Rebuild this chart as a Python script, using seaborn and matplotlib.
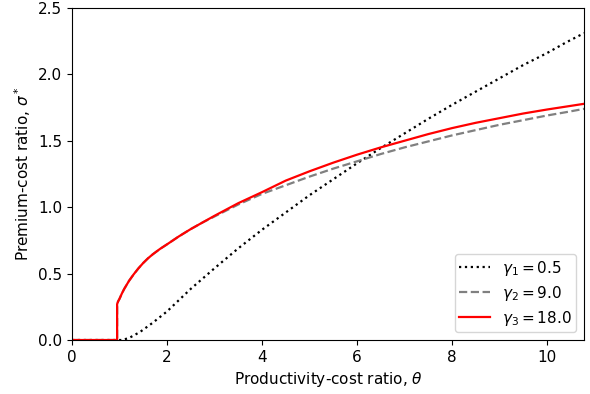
import matplotlib
matplotlib.use("Agg")
import matplotlib.pyplot as plt
import seaborn as sns

# gamma_1 = 0.5 (dotted black)
theta_1 = [0.0, 1.05, 1.2, 1.43, 1.7, 2.0, 2.5, 3.0, 3.5, 4.0, 4.5, 5.0, 5.5, 6.0, 6.5, 7.0, 7.5, 8.0, 8.5, 9.0, 9.5, 10.0, 10.4, 10.78]
sigma_1 = [0.0, 0.0, 0.015, 0.06, 0.13, 0.215, 0.385, 0.54, 0.69, 0.83, 0.96, 1.09, 1.21, 1.33, 1.445, 1.555, 1.665, 1.77, 1.87, 1.97, 2.07, 2.16, 2.24, 2.31]

# gamma_2 = 9.0 (dashed gray)
theta_2 = [0.0, 0.95, 0.95, 0.97, 1.0, 1.05, 1.1, 1.2, 1.3, 1.4, 1.5, 1.6, 1.7, 1.85, 2.0, 2.25, 2.5, 2.75, 3.0, 3.5, 4.0, 4.5, 5.0, 5.5, 6.0, 6.5, 7.0, 7.5, 8.0, 8.5, 9.0, 9.5, 10.0, 10.4, 10.78]
sigma_2 = [0.0, 0.0, 0.27, 0.29, 0.31, 0.35, 0.385, 0.445, 0.495, 0.54, 0.58, 0.615, 0.645, 0.685, 0.72, 0.78, 0.835, 0.885, 0.93, 1.02, 1.10, 1.165, 1.23, 1.29, 1.345, 1.40, 1.45, 1.495, 1.54, 1.58, 1.62, 1.655, 1.69, 1.715, 1.74]

# gamma_3 = 18.0 (solid red)
theta_3 = [0.0, 0.95, 0.95, 0.97, 1.0, 1.05, 1.1, 1.2, 1.3, 1.4, 1.5, 1.6, 1.7, 1.85, 2.0, 2.25, 2.5, 2.75, 3.0, 3.5, 4.0, 4.5, 5.0, 5.5, 6.0, 6.5, 7.0, 7.5, 8.0, 8.5, 9.0, 9.5, 10.0, 10.4, 10.78]
sigma_3 = [0.0, 0.0, 0.27, 0.29, 0.31, 0.35, 0.385, 0.445, 0.495, 0.54, 0.58, 0.615, 0.645, 0.685, 0.72, 0.78, 0.835, 0.885, 0.935, 1.03, 1.113, 1.20, 1.27, 1.335, 1.395, 1.45, 1.50, 1.55, 1.595, 1.635, 1.67, 1.705, 1.735, 1.757, 1.778]

labels = [r"$\gamma_1 = 0.5$", r"$\gamma_2 = 9.0$", r"$\gamma_3 = 18.0$"]

plt.rcParams.update({"font.size": 11, "xtick.labelsize": 11, "ytick.labelsize": 11,
                     "axes.labelsize": 11, "legend.fontsize": 11})

fig = plt.figure(figsize=(5.9, 3.94), dpi=100)
ax = fig.add_axes([0.122, 0.137, 0.868, 0.843])

sns.lineplot(x=theta_1, y=sigma_1, ax=ax, color="black", linestyle=":", linewidth=1.6,
             label=labels[0], estimator=None, sort=False)
sns.lineplot(x=theta_2, y=sigma_2, ax=ax, color="gray", linestyle="--", linewidth=1.6,
             label=labels[1], estimator=None, sort=False)
sns.lineplot(x=theta_3, y=sigma_3, ax=ax, color="red", linestyle="-", linewidth=1.6,
             label=labels[2], estimator=None, sort=False)

ax.set_xlim(0, 10.78)
ax.set_ylim(0, 2.5)
ax.set_xticks([0, 2, 4, 6, 8, 10])
ax.set_yticks([0.0, 0.5, 1.0, 1.5, 2.0, 2.5])
ax.set_xlabel(r"Productivity-cost ratio, $\theta$")
ax.set_ylabel(r"Premium-cost ratio, $\sigma^*$")
ax.legend(loc="lower right", labelspacing=0.4, borderpad=0.3)

fig.savefig("out.png", dpi=100)
